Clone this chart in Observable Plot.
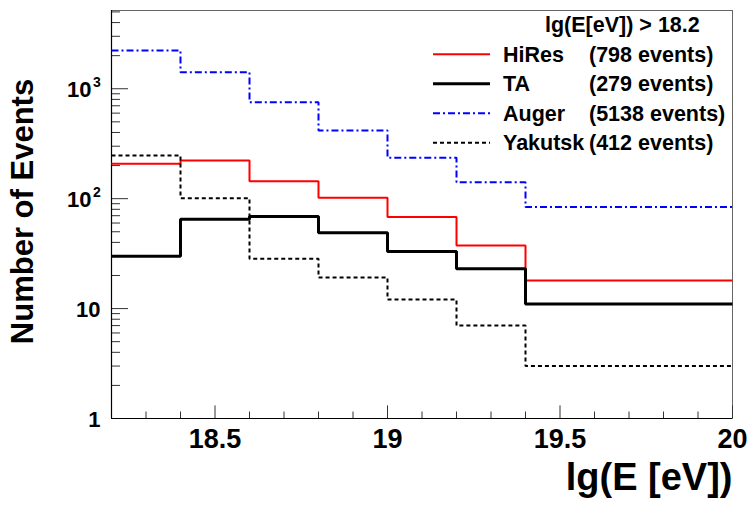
<!DOCTYPE html>
<html><head><meta charset="utf-8">
<script src="https://cdn.jsdelivr.net/npm/d3@7"></script>
<script src="https://cdn.jsdelivr.net/npm/@observablehq/plot@0.6"></script>
<style>
html,body{margin:0;padding:0;background:#fff;}
#chart svg{display:block;}
</style></head><body><div id="chart"></div>
<script>
// ---- data ----
const binEdges = [18.2, 18.4, 18.6, 18.8, 19.0, 19.2, 19.4, 20.0];
const hires   = [208, 223, 144, 102, 68, 37.5, 18];
const ta      = [30, 65, 69, 49, 33, 23, 11];
const auger   = [2230, 1416, 755, 417, 236, 141, 84];
const yakutsk = [247, 101, 28.4, 19.2, 12.1, 7, 3];
const seriesNames  = ["HiRes", "TA", "Auger", "Yakutsk"];
const seriesCounts = ["(798 events)", "(279 events)", "(5138 events)", "(412 events)"];
const legendTitle = "lg(E[eV]) > 18.2";
const xMajorTicks = [18.5, 19, 19.5, 20];
const xMinorTicks = [18.3, 18.4, 18.6, 18.7, 18.8, 18.9, 19.1, 19.2, 19.3, 19.4, 19.6, 19.7, 19.8, 19.9];
const yTickValues = [1, 10, 100, 1000];
const yTickBase = ["1", "10", "10", "10"];
const yTickExp  = ["", "", "2", "3"];
const yMinorTicks = [2,3,4,5,6,7,8,9,20,30,40,50,60,70,80,90,200,300,400,500,600,700,800,900,2000,3000,4000,5000];
const xTitle = "lg(E [eV])";
const yTitle = "Number of Events";

// ---- styles ----
const seriesData = [hires, ta, auger, yakutsk];
const seriesStyle = [
  {stroke: "#ff0000", strokeWidth: 2, dash: null},
  {stroke: "#000000", strokeWidth: 3, dash: null},
  {stroke: "#0000ff", strokeWidth: 2, dash: "7,3,2,3"},
  {stroke: "#000000", strokeWidth: 2, dash: "4,3"}
];
const FONT = "'Liberation Sans', Arial, Helvetica, sans-serif";
const W = 747, H = 509, mL = 111, mR = 15, mT = 10, mB = 91;
const frameW = W - mL - mR, frameH = H - mT - mB;

const steps = vals => binEdges.map((e, i) => ({x: e, y: vals[Math.min(i, vals.length - 1)]}));

const lineMarks = seriesData.map((vals, k) => Plot.line(steps(vals), {
  x: "x", y: "y", curve: "step-after",
  stroke: seriesStyle[k].stroke, strokeWidth: seriesStyle[k].strokeWidth,
  strokeDasharray: seriesStyle[k].dash, strokeLinejoin: "miter", strokeLinecap: "butt"
}));

const plainIdx = yTickValues.map((v, i) => i).filter(i => yTickExp[i] === "");
const expIdx = yTickValues.map((v, i) => i).filter(i => yTickExp[i] !== "");

const svg = Plot.plot({
  width: W, height: H,
  marginLeft: mL, marginRight: mR, marginTop: mT, marginBottom: mB,
  x: {domain: [18.2, 20], axis: null},
  y: {type: "log", domain: [1, 5150], axis: null},
  style: {fontFamily: FONT, background: "#fff", color: "#000"},
  marks: [
    Plot.frame({stroke: "#666", strokeWidth: 1}),
    Plot.ruleX(xMinorTicks, {x: d => d, insetTop: frameH - 6.5, stroke: "#333", strokeWidth: 1}),
    Plot.ruleX(xMajorTicks, {x: d => d, insetTop: frameH - 12.6, stroke: "#333", strokeWidth: 1}),
    Plot.ruleY(yMinorTicks, {y: d => d, insetRight: frameW - 9, stroke: "#333", strokeWidth: 1}),
    Plot.ruleY(yTickValues, {y: d => d, insetRight: frameW - 17, stroke: "#333", strokeWidth: 1}),
    Plot.ruleX([18.2], {stroke: "#000", strokeWidth: 1.2}),
    Plot.ruleY([1], {stroke: "#000", strokeWidth: 1.2}),
    ...lineMarks,
    Plot.text(xMajorTicks, {x: d => d, text: d => String(d), frameAnchor: "bottom", dy: 29.7,
      lineAnchor: "bottom", fontSize: 27, fontWeight: "bold", fill: "#000"}),
    Plot.text(plainIdx, {y: i => yTickValues[i], text: i => yTickBase[i], frameAnchor: "left",
      dx: -11, dy: 1.5, textAnchor: "end", fontSize: 22, fontWeight: "bold", fill: "#000"}),
    Plot.text(expIdx, {y: i => yTickValues[i], text: i => yTickBase[i], frameAnchor: "left",
      dx: -20, dy: 1.5, textAnchor: "end", fontSize: 22, fontWeight: "bold", fill: "#000"}),
    Plot.text(expIdx, {y: i => yTickValues[i], text: i => yTickExp[i], frameAnchor: "left",
      dx: -18.5, dy: -6, textAnchor: "start", fontSize: 14, fontWeight: "bold", fill: "#000"}),
    Plot.text([yTitle], {frameAnchor: "left", dx: -88, dy: -3, rotate: -90, textAnchor: "middle",
      fontSize: 31, fontWeight: "bold", fill: "#000"}),
    Plot.text([xTitle], {frameAnchor: "bottom-right", dy: 71, textAnchor: "end", lineAnchor: "bottom",
      fontSize: 38, fontWeight: "bold", fill: "#000"})
  ]
});

// legend inside the frame
const g = d3.select(svg).append("g")
  .attr("font-family", FONT).attr("font-weight", "bold").attr("font-size", 21.5)
  .attr("fill", "#000").attr("text-anchor", "start");
g.append("text").attr("x", 545).attr("y", 31.7).text(legendTitle);
seriesNames.forEach((name, i) => {
  const base = 61.7 + i * 29.5;
  const st = seriesStyle[i];
  g.append("line").attr("x1", 433).attr("x2", 490).attr("y1", base - 7.4).attr("y2", base - 7.4)
    .attr("stroke", st.stroke).attr("stroke-width", st.strokeWidth)
    .attr("stroke-dasharray", st.dash);
  g.append("text").attr("x", 503).attr("y", base).text(name);
  g.append("text").attr("x", 589).attr("y", base).text(seriesCounts[i]);
});

document.getElementById("chart").appendChild(svg);
</script></body></html>
